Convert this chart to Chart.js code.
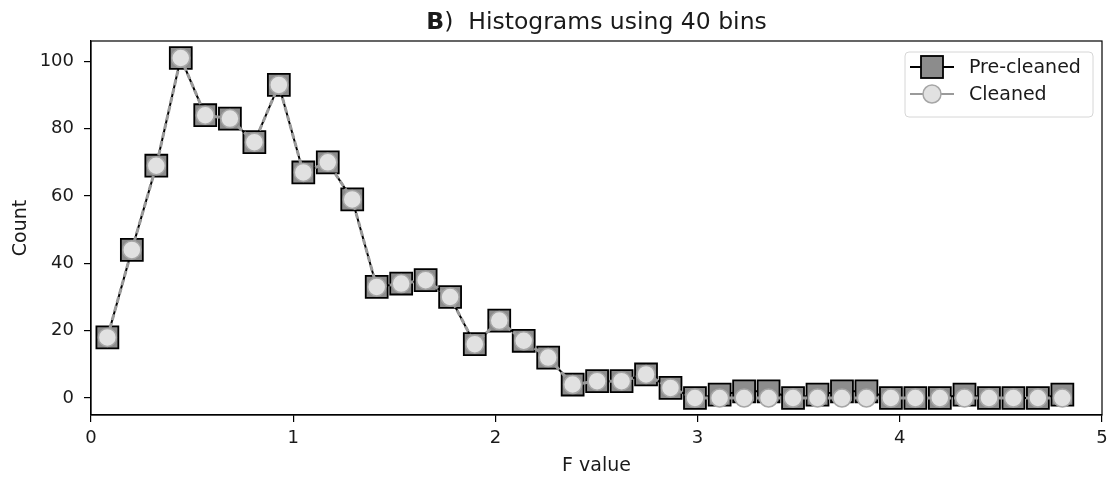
<!DOCTYPE html>
<html>
<head>
<meta charset="utf-8">
<script src="https://cdn.jsdelivr.net/npm/chart.js@4/dist/chart.umd.min.js"></script>
<style>
  html, body { margin: 0; padding: 0; background: #fff; }
  #wrap { width: 1110px; height: 487px; }
</style>
</head>
<body>
<div id="wrap"><canvas id="chart" width="1110" height="487"></canvas></div>
<script>
// Bin centres of the 40-bin histograms (F value)
const binCenters = [
  0.081, 0.202, 0.323, 0.444, 0.565, 0.687, 0.808, 0.929, 1.050, 1.171,
  1.292, 1.413, 1.534, 1.655, 1.776, 1.898, 2.019, 2.140, 2.261, 2.382,
  2.503, 2.624, 2.745, 2.866, 2.987, 3.109, 3.230, 3.351, 3.472, 3.593,
  3.714, 3.835, 3.956, 4.077, 4.198, 4.320, 4.441, 4.562, 4.683, 4.804
];

// Counts per bin before cleaning
const preCleaned = [
  18, 44, 69, 101, 84, 83, 76, 93, 67, 70,
  59, 33, 34, 35, 30, 16, 23, 17, 12, 4,
  5, 5, 7, 3, 0, 1, 2, 2, 0, 1,
  2, 2, 0, 0, 0, 1, 0, 0, 0, 1
];

// Counts per bin after cleaning
const cleaned = [
  18, 44, 69, 101, 84, 83, 76, 93, 67, 70,
  59, 33, 34, 35, 30, 16, 23, 17, 12, 4,
  5, 5, 7, 3, 0, 0, 0, 0, 0, 0,
  0, 0, 0, 0, 0, 0, 0, 0, 0, 0
];

const xTicks = [0, 1, 2, 3, 4, 5];
const yTicks = [0, 20, 40, 60, 80, 100];

const FONT = "'DejaVu Sans', 'Liberation Sans', sans-serif";
const TEXT = '#1a1a1a';

const SQUARE_FILL = '#8c8c8c';
const CIRCLE_FILL = '#e1e1e1';
const CIRCLE_EDGE = '#a6a6a6';
const GREY_LINE = '#9a9a9a';

const toPoints = (ys) => binCenters.map((x, i) => ({ x: x, y: ys[i] }));

const zeroPadding = (s) => {
  s.paddingLeft = 0;
  s.paddingRight = 0;
  s.paddingTop = 0;
  s.paddingBottom = 0;
};

// Frame, title and legend drawn in matplotlib style
const decorations = {
  id: 'decorations',
  afterDatasetsDraw(chart) {
    const { ctx, chartArea: a } = chart;
    ctx.save();
    ctx.strokeStyle = '#000';
    ctx.lineWidth = 1.2;
    ctx.strokeRect(a.left, a.top, a.right - a.left, a.bottom - a.top);
    ctx.restore();
  },
  afterDraw(chart) {
    const { ctx, chartArea: a } = chart;
    ctx.save();

    // Title: bold panel letter followed by regular text
    const bold = "bold 23.5px " + FONT;
    const reg = "23.5px " + FONT;
    const p1 = 'B';
    const p2 = ')  Histograms using 40 bins';
    ctx.font = bold;
    const w1 = ctx.measureText(p1).width;
    ctx.font = reg;
    const w2 = ctx.measureText(p2).width;
    const cx = (a.left + a.right) / 2;
    const tx = cx - (w1 + w2) / 2;
    ctx.fillStyle = TEXT;
    ctx.textBaseline = 'alphabetic';
    ctx.textAlign = 'left';
    ctx.font = bold;
    ctx.fillText(p1, tx, 29);
    ctx.font = reg;
    ctx.fillText(p2, tx + w1, 29);

    // Legend box
    const bx = 905, by = 52, bw = 188, bh = 65, r = 4;
    ctx.beginPath();
    ctx.moveTo(bx + r, by);
    ctx.arcTo(bx + bw, by, bx + bw, by + bh, r);
    ctx.arcTo(bx + bw, by + bh, bx, by + bh, r);
    ctx.arcTo(bx, by + bh, bx, by, r);
    ctx.arcTo(bx, by, bx + bw, by, r);
    ctx.closePath();
    ctx.fillStyle = 'rgba(255,255,255,0.8)';
    ctx.fill();
    ctx.strokeStyle = '#d6d6d6';
    ctx.lineWidth = 1;
    ctx.stroke();

    const rows = [
      { label: chart.data.datasets[0].label, y: 67, kind: 'square' },
      { label: chart.data.datasets[1].label, y: 94, kind: 'circle' }
    ];
    const mx = 932;
    rows.forEach((row) => {
      ctx.beginPath();
      ctx.moveTo(910, row.y);
      ctx.lineTo(954, row.y);
      ctx.strokeStyle = row.kind === 'square' ? '#000' : GREY_LINE;
      ctx.lineWidth = 2;
      ctx.stroke();
      if (row.kind === 'square') {
        ctx.fillStyle = SQUARE_FILL;
        ctx.fillRect(mx - 11, row.y - 11, 22, 22);
        ctx.strokeStyle = '#000';
        ctx.lineWidth = 1.8;
        ctx.strokeRect(mx - 11, row.y - 11, 22, 22);
      } else {
        ctx.beginPath();
        ctx.arc(mx, row.y, 9, 0, Math.PI * 2);
        ctx.fillStyle = CIRCLE_FILL;
        ctx.fill();
        ctx.strokeStyle = CIRCLE_EDGE;
        ctx.lineWidth = 1.5;
        ctx.stroke();
      }
      ctx.fillStyle = TEXT;
      ctx.font = "19px " + FONT;
      ctx.textBaseline = 'middle';
      ctx.fillText(row.label, 969, row.y + 1);
    });
    ctx.restore();
  }
};

new Chart(document.getElementById('chart'), {
  type: 'line',
  data: {
    datasets: [
      {
        label: 'Pre-cleaned',
        data: toPoints(preCleaned),
        order: 2,
        borderColor: '#000',
        borderWidth: 2,
        tension: 0,
        pointStyle: 'rect',
        pointRadius: 15.5,
        pointBackgroundColor: SQUARE_FILL,
        pointBorderColor: '#000',
        pointBorderWidth: 1.8
      },
      {
        label: 'Cleaned',
        data: toPoints(cleaned),
        order: 1,
        borderColor: GREY_LINE,
        borderWidth: 3,
        borderDash: [6, 3],
        tension: 0,
        pointStyle: 'circle',
        pointRadius: 9,
        pointBackgroundColor: CIRCLE_FILL,
        pointBorderColor: CIRCLE_EDGE,
        pointBorderWidth: 1.5
      }
    ]
  },
  options: {
    responsive: false,
    animation: false,
    devicePixelRatio: 1,
    layout: { autoPadding: false, padding: { top: 41, right: 8, left: 0, bottom: 0 } },
    plugins: {
      legend: { display: false },
      title: { display: false },
      tooltip: { enabled: false }
    },
    scales: {
      x: {
        type: 'linear',
        min: 0,
        max: 5,
        afterBuildTicks: (s) => { s.ticks = xTicks.map((v) => ({ value: v })); },
        afterFit: (s) => { s.height = 72; zeroPadding(s); },
        grid: { display: true, drawOnChartArea: false, drawTicks: true, tickLength: 7, color: '#000', lineWidth: 1.2 },
        border: { display: true, color: '#000', width: 1.2 },
        ticks: { color: TEXT, font: { family: FONT, size: 18 }, padding: 6, maxRotation: 0 },
        title: { display: true, text: 'F value', color: TEXT, font: { family: FONT, size: 19 }, padding: { top: 0, bottom: 10 } }
      },
      y: {
        type: 'linear',
        min: -5.05,
        max: 106.05,
        afterBuildTicks: (s) => { s.ticks = yTicks.map((v) => ({ value: v })); },
        afterFit: (s) => { s.width = 91; zeroPadding(s); },
        grid: { display: true, drawOnChartArea: false, drawTicks: true, tickLength: 7, color: '#000', lineWidth: 1.2 },
        border: { display: true, color: '#000', width: 1.2 },
        ticks: { color: TEXT, font: { family: FONT, size: 18 }, padding: 10 },
        title: { display: true, text: 'Count', color: TEXT, font: { family: FONT, size: 19 }, padding: { top: 10, bottom: 0 } }
      }
    }
  },
  plugins: [decorations]
});
</script>
</body>
</html>
